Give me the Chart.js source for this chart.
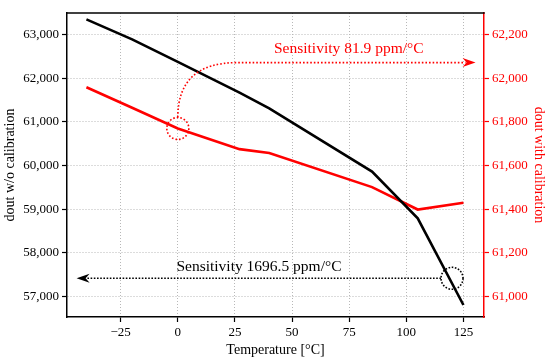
<!DOCTYPE html>
<html>
<head>
<meta charset="utf-8">
<script src="https://cdn.jsdelivr.net/npm/chart.js@4.4.1/dist/chart.umd.min.js"></script>
<style>
  html, body { margin: 0; padding: 0; background: #fff; }
  #wrap { width: 550px; height: 362px; position: relative; }
</style>
</head>
<body>
<div id="wrap"><canvas id="c" width="550" height="362"></canvas></div>
<script>
// ---- data ----
const temperatures = [-40, -20, 0, 27, 40, 85, 105, 125];
const doutWithoutCal = [63353, 62894, 62378, 61670, 61312, 59862, 58787, 56800];
const doutWithCal = [61959, 61865, 61770, 61675, 61657, 61501, 61398, 61429];
const xTicks = [-25, 0, 25, 50, 75, 100, 125];
const leftTicks = [57000, 58000, 59000, 60000, 61000, 62000, 63000];
const rightTicks = [61000, 61200, 61400, 61600, 61800, 62000, 62200];
const redLabel = 'Sensitivity 81.9 ppm/°C';
const blackLabel = 'Sensitivity 1696.5 ppm/°C';
// annotation anchors (data units)
const redMarker = { x: 0, y: 61770 };
const blackMarker = { x: 120, y: 57413 };
const redArrow = { bendX: 26, x: 130.3, y: 62072 };
const blackArrow = { x: -44.3 };
const redText = { x: 74.8, y: 62134 };
const blackText = { x: 35.5, y: 57672 };

const FONT = '"Liberation Serif", "Times New Roman", serif';
const RED = '#ff0000';

function fmt(v) {
  return v.toLocaleString('en-US').replace('-', '\u2212');
}

const annot = {
  id: 'annot',
  afterDatasetsDraw(chart) {
    const ctx = chart.ctx;
    const xs = chart.scales.x, yl = chart.scales.y, yr = chart.scales.y1;
    const ca = chart.chartArea;
    ctx.save();
    // top spine
    ctx.strokeStyle = '#000';
    ctx.lineWidth = 1.5;
    ctx.beginPath();
    ctx.moveTo(ca.left - 0.75, ca.top);
    ctx.lineTo(ca.right + 0.75, ca.top);
    ctx.stroke();

    const R = 11;
    function arrowHead(tipX, tipY, dir, color) {
      ctx.setLineDash([]);
      ctx.fillStyle = color;
      ctx.beginPath();
      ctx.moveTo(tipX, tipY);
      ctx.lineTo(tipX - dir * 13, tipY - 4.5);
      ctx.lineTo(tipX - dir * 9, tipY);
      ctx.lineTo(tipX - dir * 13, tipY + 4.5);
      ctx.closePath();
      ctx.fill();
    }
    // red annotation
    const rcx = xs.getPixelForValue(redMarker.x), rcy = yr.getPixelForValue(redMarker.y);
    ctx.strokeStyle = RED;
    ctx.lineWidth = 1.6;
    ctx.setLineDash([1.6, 2]);
    ctx.beginPath();
    ctx.arc(rcx, rcy, R, 0, Math.PI * 2);
    ctx.stroke();
    const ay = yr.getPixelForValue(redArrow.y);
    const bx = xs.getPixelForValue(redArrow.bendX);
    const tipR = xs.getPixelForValue(redArrow.x);
    ctx.beginPath();
    ctx.moveTo(rcx, rcy - R);
    ctx.quadraticCurveTo(rcx, ay, bx, ay);
    ctx.lineTo(tipR - 10, ay);
    ctx.stroke();
    arrowHead(tipR, ay, 1, RED);
    ctx.font = '15.5px ' + FONT;
    ctx.textAlign = 'center';
    ctx.textBaseline = 'middle';
    ctx.fillStyle = RED;
    ctx.fillText(redLabel, xs.getPixelForValue(redText.x), yr.getPixelForValue(redText.y));

    // black annotation
    const bcx = xs.getPixelForValue(blackMarker.x), bcy = yl.getPixelForValue(blackMarker.y);
    ctx.strokeStyle = '#000';
    ctx.setLineDash([1.6, 1.6]);
    ctx.beginPath();
    ctx.arc(bcx, bcy, R, 0, Math.PI * 2);
    ctx.stroke();
    const tipB = xs.getPixelForValue(blackArrow.x);
    ctx.beginPath();
    ctx.moveTo(bcx - R, bcy);
    ctx.lineTo(tipB + 10, bcy);
    ctx.stroke();
    arrowHead(tipB, bcy, -1, '#000');
    ctx.fillStyle = '#000';
    ctx.fillText(blackLabel, xs.getPixelForValue(blackText.x), yl.getPixelForValue(blackText.y));
    ctx.restore();
  }
};

const gridDash = [1, 2];
new Chart(document.getElementById('c'), {
  type: 'line',
  data: {
    datasets: [
      {
        label: 'dout w/o calibration',
        data: temperatures.map((t, i) => ({ x: t, y: doutWithoutCal[i] })),
        borderColor: '#000',
        borderWidth: 2.6,
        pointRadius: 0,
        tension: 0,
        yAxisID: 'y'
      },
      {
        label: 'dout with calibration',
        data: temperatures.map((t, i) => ({ x: t, y: doutWithCal[i] })),
        borderColor: RED,
        borderWidth: 2.6,
        pointRadius: 0,
        tension: 0,
        yAxisID: 'y1'
      }
    ]
  },
  options: {
    responsive: false,
    animation: false,
    devicePixelRatio: 1,
    layout: { padding: { top: 13, left: 2, right: 1, bottom: 3 } },
    plugins: { legend: { display: false }, tooltip: { enabled: false } },
    scales: {
      x: {
        type: 'linear',
        min: -48.5,
        max: 134,
        afterBuildTicks: s => { s.ticks = xTicks.map(v => ({ value: v })); },
        afterFit: s => { s.height = 42; },
        ticks: {
          callback: v => fmt(v),
          color: '#000',
          font: { family: FONT, size: 13 },
          padding: 3,
          maxRotation: 0
        },
        grid: { color: '#b8b8b8', lineWidth: 1, tickColor: '#000', tickLength: 5, tickWidth: 1.2 },
        border: { color: '#000', width: 1.5, dash: gridDash },
        title: { display: true, text: 'Temperature [°C]', color: '#000', font: { family: FONT, size: 14 }, padding: { top: 2, bottom: 0 } }
      },
      y: {
        position: 'left',
        min: 56525,
        max: 63498,
        afterBuildTicks: s => { s.ticks = leftTicks.map(v => ({ value: v })); },
        afterFit: s => { s.width = 65; },
        ticks: {
          callback: v => fmt(v),
          color: '#000',
          font: { family: FONT, size: 13 },
          padding: 3
        },
        grid: { color: '#b8b8b8', lineWidth: 1, tickColor: '#000', tickLength: 5, tickWidth: 1.2 },
        border: { color: '#000', width: 1.5, dash: gridDash },
        title: { display: true, text: 'dout w/o calibration', color: '#000', font: { family: FONT, size: 14 }, padding: { top: 0, bottom: 2 } }
      },
      y1: {
        position: 'right',
        min: 60905,
        max: 62299.6,
        afterBuildTicks: s => { s.ticks = rightTicks.map(v => ({ value: v })); },
        afterFit: s => { s.width = 65; },
        ticks: {
          callback: v => fmt(v),
          color: RED,
          font: { family: FONT, size: 13 },
          padding: 3
        },
        grid: { drawOnChartArea: false, color: RED, tickColor: RED, tickLength: 5, tickWidth: 1.2 },
        border: { color: RED, width: 1.5 },
        title: { display: true, text: 'dout with calibration', color: RED, font: { family: FONT, size: 14 }, padding: { top: 2, bottom: 0 } }
      }
    }
  },
  plugins: [annot]
});
</script>
</body>
</html>
